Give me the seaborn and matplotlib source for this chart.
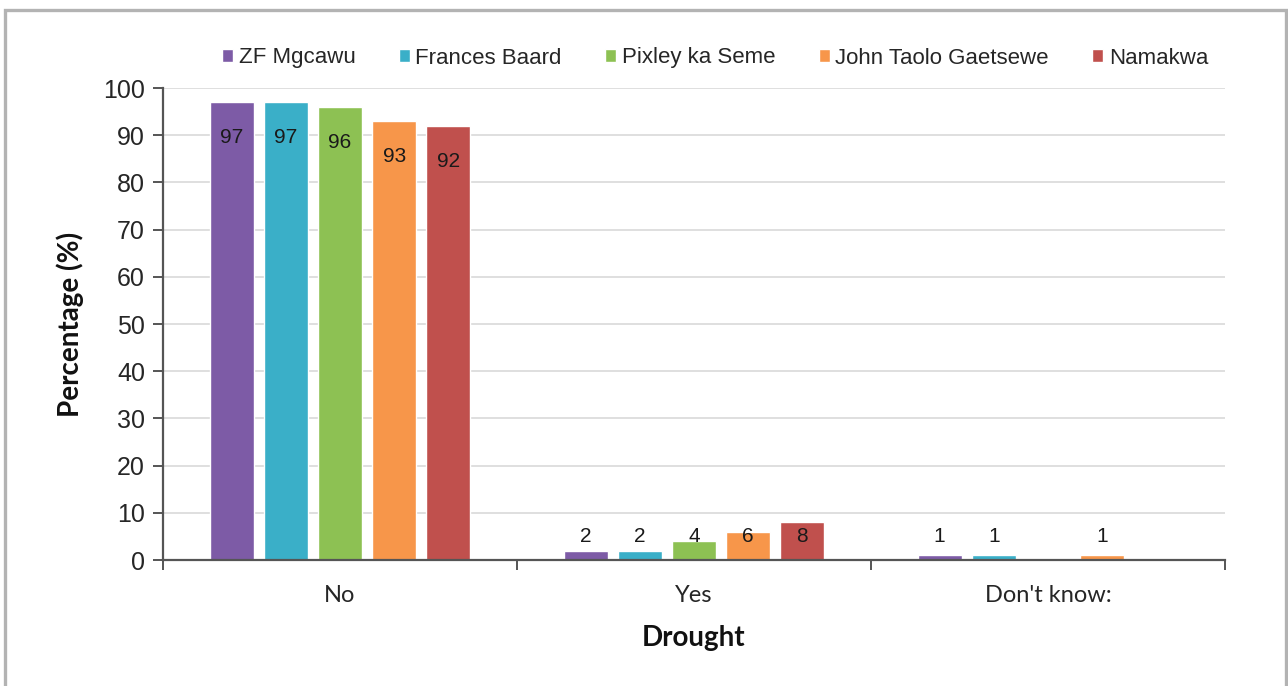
import matplotlib
matplotlib.use("Agg")
import matplotlib.pyplot as plt
import matplotlib.patches as mpatches
import seaborn as sns
import pandas as pd

# Survey responses per district
categories = ["No", "Yes", "Don't know:"]
districts = ["ZF Mgcawu", "Frances Baard", "Pixley ka Seme", "John Taolo Gaetsewe", "Namakwa"]
zf_mgcawu = [97, 2, 1]
frances_baard = [97, 2, 1]
pixley_ka_seme = [96, 4, 0]
john_taolo_gaetsewe = [93, 6, 1]
namakwa = [92, 8, 0]
colors = ["#7D5BA6", "#3AAFC8", "#8DC153", "#F7964A", "#C0504D"]

series = [zf_mgcawu, frances_baard, pixley_ka_seme, john_taolo_gaetsewe, namakwa]
rows = []
for name, vals in zip(districts, series):
    for cat, v in zip(categories, vals):
        rows.append({"Drought": cat, "District": name, "Percentage": v})
df = pd.DataFrame(rows)

sns.set_theme(style="white")
plt.rcParams["font.family"] = ["Liberation Sans", "DejaVu Sans"]

W, H = 1288, 686
fig = plt.figure(figsize=(W / 100, H / 100), dpi=100)
ax = fig.add_axes([163 / W, 1 - 560 / H, (1225 - 163) / W, (560 - 88) / H])

sns.barplot(data=df, x="Drought", y="Percentage", hue="District",
            order=categories, hue_order=districts, palette=colors,
            width=0.765, gap=0.19, saturation=1, ax=ax, legend=True)

ax.set_xlim(-0.5, 2.5)
ax.set_ylim(0, 100)
ax.set_yticks(range(0, 101, 10))
ax.yaxis.grid(True, color="#d9d9d9", linewidth=1.2)
ax.set_axisbelow(True)
for s in ["top", "right"]:
    ax.spines[s].set_visible(False)
for s in ["left", "bottom"]:
    ax.spines[s].set_color("#555555")
    ax.spines[s].set_linewidth(1.6)

ax.tick_params(axis="y", which="major", direction="out", length=7, width=1.4,
               color="#555555", labelsize=18, labelcolor="#262626", left=True, pad=6)
ax.set_xticks([-0.5, 0.5, 1.5, 2.5], minor=True)
ax.tick_params(axis="x", which="minor", direction="out", length=7, width=1.4,
               color="#555555", bottom=True)
ax.tick_params(axis="x", which="major", length=0, pad=18)
for lbl in ax.get_xticklabels():
    lbl.set_fontfamily(["Lato", "DejaVu Sans"])
    lbl.set_fontsize(17)
    lbl.set_color("#262626")

ax.set_xlabel("Drought", fontsize=20, fontweight="bold", family=["Lato", "DejaVu Sans"],
              color="#111111", labelpad=14)
ax.set_ylabel("Percentage (%)", fontsize=20, fontweight="bold", family=["Lato", "DejaVu Sans"],
              color="#111111", labelpad=14)

# Value labels: inside the top of tall bars, at a fixed low height for small bars
for cont in ax.containers:
    for bar in cont:
        v = bar.get_height()
        if v <= 0:
            continue
        x = bar.get_x() + bar.get_width() / 2
        y = v - 7.5 if v > 20 else 4.9
        ax.text(x, y, f"{v:g}", ha="center", va="center", fontsize=15, color="#1a1a1a")

handles, labels = ax.get_legend_handles_labels()
ax.legend(handles, labels, loc="center left", bbox_to_anchor=(222 / W, 1 - 58 / H),
          bbox_transform=fig.transFigure, ncol=5, frameon=False, fontsize=16,
          handlelength=0.5, handleheight=0.5, handletextpad=0.25, columnspacing=1.95,
          borderaxespad=0, borderpad=0)
for t in ax.get_legend().get_texts():
    t.set_color("#262626")

# Outer frame
fig.patches.append(mpatches.Rectangle((5 / W, -0.05), 1281 / W, 1.05 - 10 / H,
                                      transform=fig.transFigure, fill=False,
                                      edgecolor="#b3b3b3", linewidth=2.4))

fig.savefig("out.png", dpi=100, facecolor="white")
